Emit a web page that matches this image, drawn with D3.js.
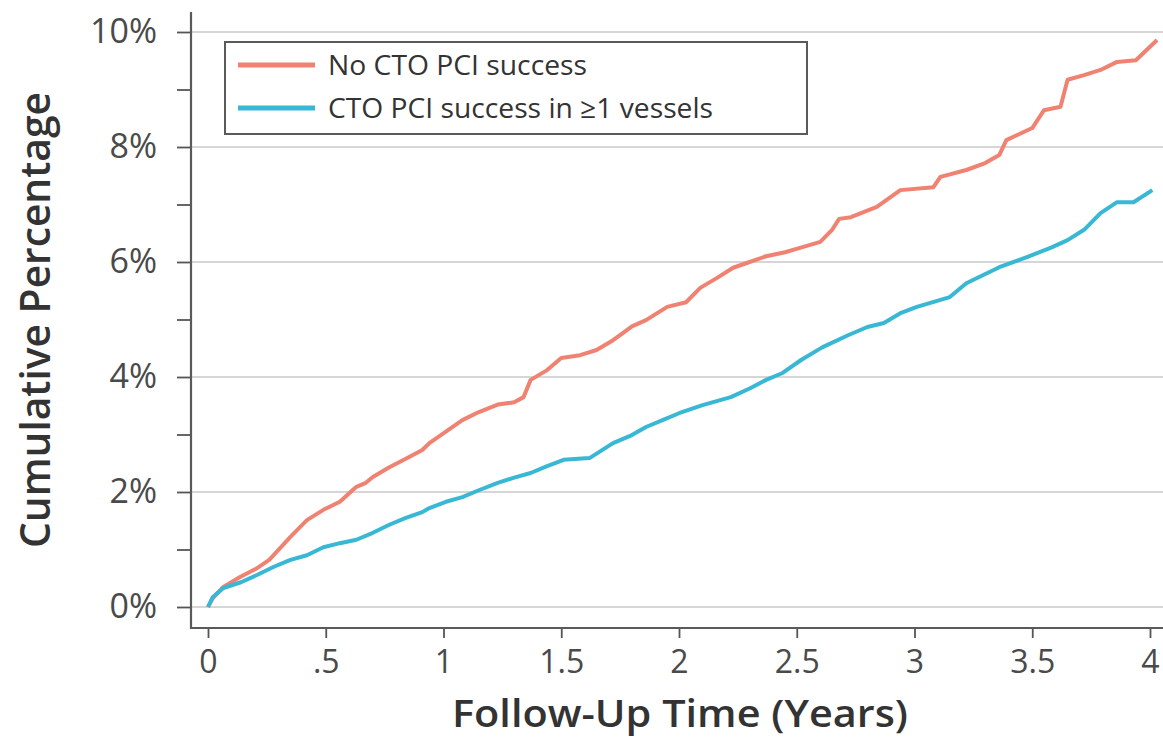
<!DOCTYPE html>
<html>
<head>
<meta charset="utf-8">
<script src="https://cdn.jsdelivr.net/npm/d3@7"></script>
<style>
  html, body { margin: 0; padding: 0; background: #fff; }
  svg { display: block; font-family: "Open Sans", "Noto Sans", sans-serif; }
</style>
</head>
<body>
<svg id="chart" width="1163" height="738"></svg>
<script>
// ---- data (years, cumulative %) ----
const seriesNames = ["No CTO PCI success", "CTO PCI success in \u22651 vessels"];
const noSuccessTime = [0,0.02,0.065,0.136,0.21,0.26,0.31,0.35,0.42,0.49,0.56,0.63,0.67,0.70,0.77,0.84,0.91,0.94,1.01,1.08,1.15,1.23,1.30,1.34,1.37,1.44,1.50,1.58,1.65,1.72,1.76,1.80,1.86,1.95,2.03,2.09,2.16,2.23,2.30,2.37,2.45,2.51,2.60,2.65,2.68,2.73,2.84,2.94,3.08,3.11,3.22,3.30,3.36,3.39,3.50,3.55,3.62,3.65,3.72,3.79,3.86,3.94,4.03];
const noSuccessPct  = [0,0.15,0.35,0.52,0.68,0.82,1.04,1.22,1.51,1.69,1.83,2.09,2.16,2.26,2.43,2.58,2.73,2.85,3.05,3.25,3.39,3.52,3.56,3.65,3.95,4.12,4.33,4.38,4.47,4.64,4.76,4.88,4.99,5.22,5.30,5.55,5.72,5.90,6.00,6.10,6.17,6.24,6.35,6.56,6.75,6.78,6.96,7.25,7.30,7.48,7.60,7.72,7.86,8.12,8.33,8.64,8.70,9.17,9.25,9.34,9.48,9.51,9.86];
const successTime = [0,0.02,0.065,0.14,0.21,0.28,0.35,0.42,0.49,0.56,0.63,0.70,0.77,0.84,0.91,0.94,1.01,1.08,1.15,1.23,1.30,1.37,1.44,1.51,1.62,1.72,1.80,1.86,1.93,2.00,2.10,2.22,2.30,2.37,2.44,2.52,2.61,2.72,2.80,2.87,2.94,3.01,3.15,3.22,3.36,3.48,3.58,3.65,3.72,3.79,3.86,3.93,4.01];
const successPct  = [0,0.17,0.33,0.43,0.56,0.70,0.82,0.90,1.04,1.11,1.17,1.29,1.43,1.55,1.65,1.72,1.83,1.91,2.03,2.16,2.25,2.33,2.45,2.56,2.59,2.85,2.99,3.13,3.25,3.37,3.51,3.65,3.80,3.95,4.07,4.30,4.52,4.73,4.87,4.94,5.11,5.22,5.39,5.63,5.91,6.09,6.25,6.38,6.56,6.85,7.04,7.04,7.25];
const xTickValues = [0,0.5,1,1.5,2,2.5,3,3.5,4];
const xTickLabels = ["0",".5","1","1.5","2","2.5","3","3.5","4"];
const yTickValues = [0,1,2,3,4,5,6,7,8,9,10];
const yGridValues = [0,2,4,6,8,10];
const xTitle = "Follow-Up Time (Years)";
const yTitle = "Cumulative Percentage";
const colors = ["#F08272", "#38B8D4"];

// ---- layout ----
const W = 1163, H = 738;
const axisX = 191, axisY = 628;
const svg = d3.select("#chart");

const x = d3.scaleLinear().domain([0, 4]).range([208, 1150]);
const y = d3.scaleLinear().domain([0, 10]).range([607, 32]);

// gridlines
svg.append("g").selectAll("line").data(yGridValues).join("line")
  .attr("x1", axisX).attr("x2", W)
  .attr("y1", d => y(d)).attr("y2", d => y(d))
  .attr("stroke", "#c9c9c9").attr("stroke-width", 1.6);

// lines
const line = d3.line().x(d => x(d[0])).y(d => y(d[1]));
const data = [
  d3.zip(noSuccessTime, noSuccessPct),
  d3.zip(successTime, successPct)
];
svg.append("g").selectAll("path").data(data).join("path")
  .attr("d", line)
  .attr("fill", "none")
  .attr("stroke", (d, i) => colors[i])
  .attr("stroke-width", 4)
  .attr("stroke-linejoin", "round");

// y axis
const yAxis = d3.axisLeft(y).tickValues(yTickValues)
  .tickFormat(d => d % 2 === 0 ? d + "%" : "")
  .tickSize(14).tickPadding(20);
const gy = svg.append("g").attr("transform", `translate(${axisX},0)`).call(yAxis);
gy.select(".domain").remove();
gy.selectAll(".tick line").attr("stroke", "#555").attr("stroke-width", 1.8);
gy.selectAll(".tick text").attr("font-size", 34).attr("fill", "#4a4a4a")
  .attr("font-family", "'Open Sans', sans-serif");

// x axis
const xAxis = d3.axisBottom(x).tickValues(xTickValues)
  .tickFormat((d, i) => xTickLabels[i])
  .tickSize(10).tickPadding(12);
const gx = svg.append("g").attr("transform", `translate(0,${axisY})`).call(xAxis);
gx.select(".domain").remove();
gx.selectAll(".tick line").attr("stroke", "#555").attr("stroke-width", 1.8);
gx.selectAll(".tick text").attr("font-size", 32).attr("fill", "#4a4a4a")
  .attr("font-family", "'Open Sans', sans-serif");

// axis lines
svg.append("line").attr("x1", axisX).attr("x2", axisX).attr("y1", 12).attr("y2", axisY + 1)
  .attr("stroke", "#5a5a5a").attr("stroke-width", 2.2);
svg.append("line").attr("x1", axisX - 1).attr("x2", W).attr("y1", axisY).attr("y2", axisY)
  .attr("stroke", "#5a5a5a").attr("stroke-width", 2.2);

// axis titles
svg.append("text").attr("x", 680).attr("y", 727)
  .attr("text-anchor", "middle").attr("font-size", 38).attr("font-weight", 600)
  .attr("fill", "#333").attr("textLength", 456).attr("lengthAdjust", "spacingAndGlyphs")
  .text(xTitle);
svg.append("text").attr("transform", "translate(50,320) rotate(-90)")
  .attr("text-anchor", "middle").attr("font-size", 42).attr("font-weight", 600)
  .attr("fill", "#333").attr("textLength", 456).attr("lengthAdjust", "spacingAndGlyphs")
  .text(yTitle);

// legend
const lg = svg.append("g");
lg.append("rect").attr("x", 225).attr("y", 42).attr("width", 582).attr("height", 92)
  .attr("fill", "#fff").attr("stroke", "#5a5a5a").attr("stroke-width", 2);
const legendWidths = [259, 385];
const items = lg.selectAll("g.item").data(seriesNames).join("g").attr("class", "item")
  .attr("transform", (d, i) => `translate(0,${65 + i * 43})`);
items.append("line").attr("x1", 238).attr("x2", 315).attr("y1", 0).attr("y2", 0)
  .attr("stroke", (d, i) => colors[i]).attr("stroke-width", 5);
items.append("text").attr("x", 328).attr("y", 10)
  .attr("font-size", 28).attr("fill", "#333")
  .attr("textLength", (d, i) => legendWidths[i]).attr("lengthAdjust", "spacingAndGlyphs")
  .text(d => d);
</script>
</body>
</html>
